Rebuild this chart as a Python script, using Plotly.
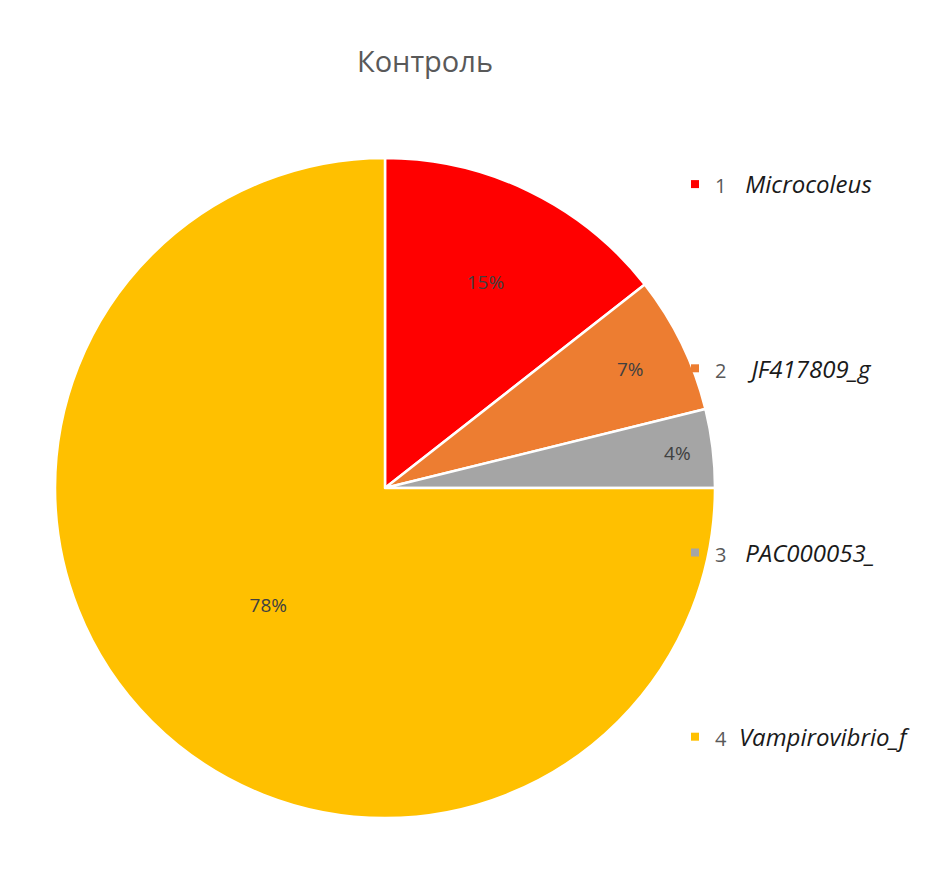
import plotly.graph_objects as go

# Pie data (slice shares as labelled on the chart)
numbers = ['1', '2', '3', '4']
taxa = ['Microcoleus', 'JF417809_g', 'PAC000053_', 'Vampirovibrio_f']
shares = [15, 7, 4, 78]
colors = ['#ff0000', '#ed7d31', '#a5a5a5', '#ffc000']
gaps = ['\u00a0\u00a0\u00a0', '\u00a0\u00a0\u00a0\u00a0', '\u00a0\u00a0\u00a0', '\u00a0\u00a0']

W, H = 935, 874

fig = go.Figure()

fig.add_trace(go.Pie(
    labels=taxa,
    values=shares,
    text=[f'{v}%' for v in shares],
    texttemplate='%{text}',
    textposition='inside',
    insidetextorientation='horizontal',
    textfont=dict(family='Open Sans', size=19, color='#404040'),
    marker=dict(colors=colors, line=dict(color='white', width=2.5)),
    sort=False,
    direction='clockwise',
    rotation=0,
    showlegend=False,
    hoverinfo='label+percent',
    domain=dict(x=[47 / W, 707 / W], y=[(H - 810) / H, (H - 150) / H]),
))

# legend entries as empty square-marker traces, one group each
for num, name, col, gap in zip(numbers, taxa, colors, gaps):
    fig.add_trace(go.Scatter(
        x=[None], y=[None],
        mode='markers',
        marker=dict(symbol='square', size=8, color=col),
        name=f"<span style='font-size:20px;color:#595959'>{num}</span>{gap}<i>{name}</i>",
        legendgroup=name,
        showlegend=True,
    ))

fig.update_layout(
    width=W, height=H,
    paper_bgcolor='white',
    plot_bgcolor='white',
    margin=dict(l=0, r=0, t=0, b=0),
    title=dict(
        text='Контроль',
        x=417 / W, xanchor='center',
        y=1 - 54 / H, yanchor='middle',
        font=dict(family='Open Sans', size=29, color='#595959'),
    ),
    xaxis=dict(visible=False),
    yaxis=dict(visible=False),
    legend=dict(
        x=667 / W, xanchor='left',
        y=1 - 154 / H, yanchor='top',
        font=dict(family='Open Sans', size=24, color='#1a1a1a'),
        tracegroupgap=150,
        itemwidth=30,
        bgcolor='rgba(0,0,0,0)',
    ),
)

fig.write_html('out.html')
